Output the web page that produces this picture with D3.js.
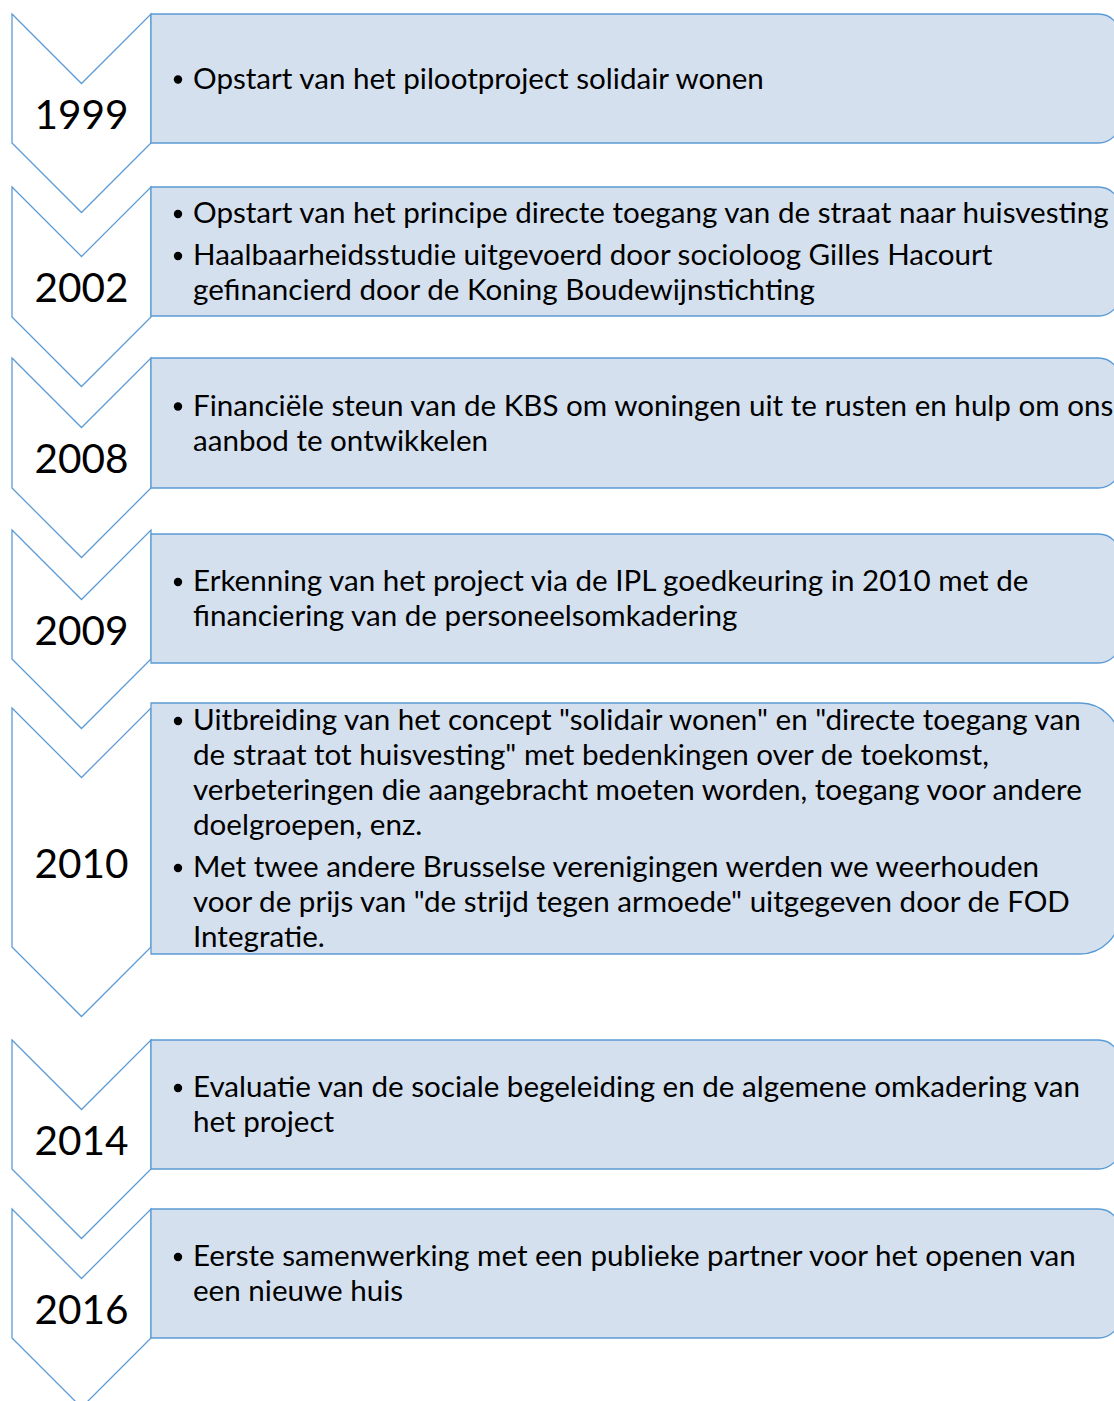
<!DOCTYPE html>
<html>
<head>
<meta charset="utf-8">
<script src="https://cdn.jsdelivr.net/npm/d3@7"></script>
<style>
  html, body { margin: 0; padding: 0; background: #ffffff; overflow: hidden; }
  svg { display: block; }
</style>
</head>
<body>
<script>
// ---------- DATA ----------
const years = ["1999", "2002", "2008", "2009", "2010", "2014", "2016"];

// each entry: list of bullet paragraphs, each paragraph = list of wrapped lines
const events = [
  [["Opstart van het pilootproject solidair wonen"]],
  [["Opstart van het principe directe toegang van de straat naar huisvesting"],
   ["Haalbaarheidsstudie uitgevoerd door socioloog Gilles Hacourt",
    "gefinancierd door de Koning Boudewijnstichting"]],
  [["Financiële steun van de KBS om woningen uit te rusten en hulp om ons",
    "aanbod te ontwikkelen"]],
  [["Erkenning van het project via de IPL goedkeuring in 2010 met de",
    "financiering van de personeelsomkadering"]],
  [["Uitbreiding van het concept \"solidair wonen\" en \"directe toegang van",
    "de straat tot huisvesting\" met bedenkingen over de toekomst,",
    "verbeteringen die aangebracht moeten worden, toegang voor andere",
    "doelgroepen, enz."],
   ["Met twee andere Brusselse verenigingen werden we weerhouden",
    "voor de prijs van \"de strijd tegen armoede\" uitgegeven door de FOD",
    "Integratie."]],
  [["Evaluatie van de sociale begeleiding en de algemene omkadering van",
    "het project"]],
  [["Eerste samenwerking met een publieke partner voor het openen van",
    "een nieuwe huis"]]
];

// ---------- LAYOUT (positions / sizes, not data) ----------
const W = 1114, H = 1401;
// chevron top / chevron side bottom / box top / box bottom
const layout = [
  {ct: 14,   cb: 143, bt: 14,   bb: 143},
  {ct: 187,  cb: 317, bt: 187,  bb: 316},
  {ct: 358,  cb: 488, bt: 358,  bb: 488},
  {ct: 530,  cb: 659, bt: 534,  bb: 663},
  {ct: 708,  cb: 947, bt: 703,  bb: 954},
  {ct: 1040, cb: 1169, bt: 1040, bb: 1169},
  {ct: 1209, cb: 1338, bt: 1209, bb: 1338}
];
const chevL = 12, chevR = 151, depth = (chevR - chevL) / 2;
const boxL = 151, boxR = 1120;
const stroke = "#5b9bd5", boxFill = "#d5e0ef";
const FONT = "Lato, 'Open Sans', 'DejaVu Sans', sans-serif";
const lineH = 35, paraGap = 7;

const svg = d3.select("body").append("svg")
  .attr("width", W).attr("height", H)
  .attr("viewBox", `0 0 ${W} ${H}`);

// measure fonts to match reference widths
function measure(txt, size) {
  const t = svg.append("text").attr("font-family", FONT).attr("font-size", size).text(txt);
  const w = t.node().getComputedTextLength();
  t.remove();
  return w;
}
const bodySize = 100 * (574 / measure("Opstart van het pilootproject solidair wonen", 100) +
                        917 / measure("Opstart van het principe directe toegang van de straat naar huisvesting", 100) +
                        915 / measure("Financiële steun van de KBS om woningen uit te rusten en hulp om ons", 100)) / 3;
const yearSize = Math.min(46, 100 * 94 / measure("1999", 100));

const rows = years.map((y, i) => ({year: y, paras: events[i], ...layout[i]}));

const g = svg.selectAll("g.row").data(rows).enter().append("g").attr("class", "row");

// chevrons
const cx = (chevL + chevR) / 2;
g.append("path")
  .attr("d", d => {
    const p = d3.path();
    p.moveTo(chevL, d.ct);
    p.lineTo(cx, d.ct + depth);
    p.lineTo(chevR, d.ct);
    p.lineTo(chevR, d.cb);
    p.lineTo(cx, d.cb + depth);
    p.lineTo(chevL, d.cb);
    p.closePath();
    return p.toString();
  })
  .attr("fill", "#ffffff")
  .attr("stroke", stroke)
  .attr("stroke-width", 1.3)
  .attr("stroke-linejoin", "miter");

// year labels
g.append("text")
  .attr("x", cx)
  .attr("y", d => (d.ct + d.cb + depth) / 2)
  .attr("text-anchor", "middle")
  .attr("dominant-baseline", "central")
  .attr("font-family", FONT)
  .attr("font-size", yearSize)
  .attr("fill", "#000")
  .text(d => d.year);

// boxes: square left corners, rounded right corners
g.append("path")
  .attr("d", d => {
    const h = d.bb - d.bt;
    const r = Math.min(h / 6, 40);
    const p = d3.path();
    p.moveTo(boxL, d.bt);
    p.lineTo(boxR - r, d.bt);
    p.arcTo(boxR, d.bt, boxR, d.bt + r, r);
    p.lineTo(boxR, d.bb - r);
    p.arcTo(boxR, d.bb, boxR - r, d.bb, r);
    p.lineTo(boxL, d.bb);
    p.closePath();
    return p.toString();
  })
  .attr("fill", boxFill)
  .attr("stroke", stroke)
  .attr("stroke-width", 1.3);

// body text
g.each(function(d) {
  const grp = d3.select(this);
  const nLines = d3.sum(d.paras, p => p.length);
  const total = nLines * lineH + (d.paras.length - 1) * paraGap;
  const center = (d.bt + d.bb) / 2;
  let y = center - total / 2 + lineH / 2;
  d.paras.forEach((para, pi) => {
    para.forEach((line, li) => {
      if (li === 0) {
        grp.append("circle")
          .attr("cx", 178).attr("cy", y + 1)
          .attr("r", 4.2).attr("fill", "#000");
      }
      grp.append("text")
        .attr("x", 193)
        .attr("y", y + 10)
        .attr("font-family", FONT)
        .attr("font-size", bodySize)
        .attr("fill", "#000")
        .text(line);
      y += lineH;
    });
    y += paraGap;
  });
});
</script>
</body>
</html>
